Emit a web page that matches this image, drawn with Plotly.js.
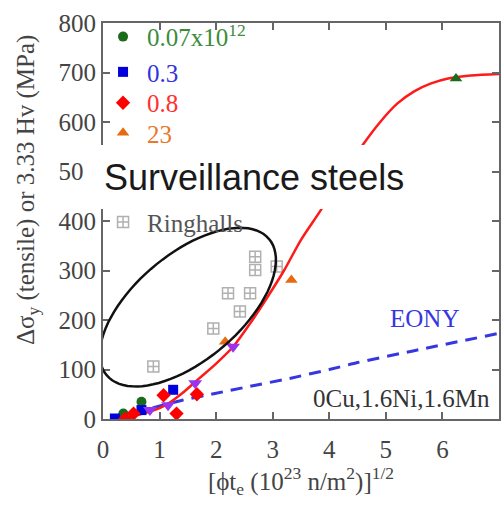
<!DOCTYPE html>
<html>
<head>
<meta charset="utf-8">
<script src="https://cdn.plot.ly/plotly-3.0.1.min.js"></script>
<style>
  html, body { margin: 0; padding: 0; background: #fff; }
  #chart { width: 501px; height: 506px; }
</style>
</head>
<body>
<div id="chart"></div>
<script>
// Fluence axis: sqrt of effective fluence, 10^23 n/m^2
const xTicks = [0, 1, 2, 3, 4, 5, 6, 7];
const yTicks = [0, 100, 200, 300, 400, 500, 600, 700, 800];

// Flux groups (10^12 n/m^2/s)
const fluxNames = ['0.07x10<sup>12</sup>', '0.3', '0.8', '23'];

const g007X = [0.36, 0.68];
const g007Y = [11, 35];

const g03X = [0.21, 0.68, 1.24];
const g03Y = [1, 18, 59];

const g08X = [0.39, 0.54, 1.07, 1.30, 1.66];
const g08Y = [0, 11, 48, 11, 50];

const g23X = [2.16, 3.33];
const g23Y = [156, 281];

// Additional datasets without a legend entry
const purpleX = [0.83, 1.15, 1.63, 2.30];
const purpleY = [18, 28, 72, 146];

const hvX = [6.24];
const hvY = [688];

// Ringhals surveillance steels
const ringX = [0.89, 1.95, 2.21, 2.42, 2.60, 2.69, 2.69, 3.07];
const ringY = [106, 183, 254, 217, 254, 328, 301, 308];

// Model curve for 0Cu,1.6Ni,1.6Mn
const fitX = [0.2, 0.5, 0.8, 1.0, 1.2, 1.4, 1.7, 2.0, 2.3, 2.6, 2.9, 3.2, 3.5, 3.85, 4.2, 4.6, 4.9, 5.2, 5.5, 5.8, 6.1, 6.5, 7.0];
const fitY = [0, 5, 14, 22, 35, 52, 82, 112, 146, 193, 245, 300, 362, 422, 487, 555, 600, 637, 662, 678, 688, 694, 697];

// EONY embrittlement correlation
const eonyX = [0.2, 0.7, 1.4, 2.0, 2.6, 3.3, 4.0, 4.5, 5.5, 7.0];
const eonyY = [0, 17, 38, 52, 66, 82, 100, 114, 138, 173];

// Ellipse drawn around the Ringhals group (centre in data units, size in px)
const ringEllipse = { cx: 1.50, cy: 226, a: 106, b: 53, angle: 40 };

function ellipsePath(e, n) {
  const th = e.angle * Math.PI / 180;
  let d = '';
  for (let i = 0; i <= n; i++) {
    const t = 2 * Math.PI * i / n;
    const px = e.a * Math.cos(t) * Math.cos(th) - e.b * Math.sin(t) * Math.sin(th);
    const py = e.a * Math.cos(t) * Math.sin(th) + e.b * Math.sin(t) * Math.cos(th);
    d += (i ? ' L' : 'M') + px.toFixed(1) + ',' + py.toFixed(1);
  }
  return d + ' Z';
}

const SERIF = 'Liberation Serif';
const SANS = 'Liberation Sans';

function label(text, color) {
  return '<span style="color:' + color + '">' + text + '</span>';
}

const traces = [
  {
    x: ringX, y: ringY, type: 'scatter', mode: 'markers', name: label('Ringhalls', '#555'),
    legend: 'legend2',
    marker: { symbol: 'square-cross-open', size: 11, color: '#b0b0b0', line: { width: 1.5 } }
  },
  {
    x: eonyX, y: eonyY, type: 'scatter', mode: 'lines', showlegend: false,
    line: { color: '#3737e0', width: 3, dash: '12px,8px', shape: 'spline', smoothing: 0.6 }
  },
  {
    x: fitX, y: fitY, type: 'scatter', mode: 'lines', showlegend: false,
    line: { color: '#ff1a1a', width: 2.5, shape: 'spline', smoothing: 0.8 }
  },
  {
    x: g007X, y: g007Y, type: 'scatter', mode: 'markers', name: label(fluxNames[0], '#3c8c3c'),
    legend: 'legend',
    marker: { symbol: 'circle', size: 10, color: '#1b6b1b' }
  },
  {
    x: g03X, y: g03Y, type: 'scatter', mode: 'markers', name: label(fluxNames[1], '#3333dd'),
    legend: 'legend3',
    marker: { symbol: 'square', size: 10, color: '#0000dd' }
  },
  {
    x: g08X, y: g08Y, type: 'scatter', mode: 'markers', name: label(fluxNames[2], '#ff3030'),
    legend: 'legend4',
    marker: { symbol: 'diamond', size: 11, color: '#ff0000' }
  },
  {
    x: g23X, y: g23Y, type: 'scatter', mode: 'markers', name: label(fluxNames[3], '#e8782a'),
    legend: 'legend5',
    marker: { symbol: 'triangle-up', size: 11, color: '#e86a10' }
  },
  {
    x: purpleX, y: purpleY, type: 'scatter', mode: 'markers', showlegend: false,
    marker: { symbol: 'triangle-down', size: 12, color: '#9933ee' }
  },
  {
    x: hvX, y: hvY, type: 'scatter', mode: 'markers', showlegend: false,
    marker: { symbol: 'triangle-up', size: 11, color: '#1b6b1b' }
  }
];

const axisCommon = {
  ticks: 'inside', ticklen: 7, tickwidth: 2, tickcolor: '#666',
  showline: true, linewidth: 2, linecolor: '#666', mirror: 'ticks',
  showgrid: false, zeroline: false,
  tickfont: { family: SERIF, size: 25, color: '#444' }
};

// One single-entry legend per flux group so each row sits at its own height
function legendAt(y) {
  return {
    x: -0.01, y: y, xanchor: 'left', yanchor: 'middle',
    bgcolor: 'rgba(0,0,0,0)', borderwidth: 0, itemwidth: 38,
    font: { family: SERIF, size: 25 }
  };
}

const layout = {
  width: 501, height: 506,
  margin: { l: 103, r: 2, t: 23, b: 87 },
  paper_bgcolor: '#fff', plot_bgcolor: '#fff',
  font: { family: SERIF, size: 25, color: '#444' },
  xaxis: Object.assign({}, axisCommon, {
    range: [0, 7], tickvals: xTicks, ticklabelstandoff: 7,
    title: {
      text: '[ϕt<sub>e</sub> (10<sup>23</sup> n/m<sup>2</sup>)]<sup>1/2</sup>',
      font: { family: SERIF, size: 25, color: '#444' }, standoff: 10
    }
  }),
  yaxis: Object.assign({}, axisCommon, { range: [0, 800], tickvals: yTicks }),
  showlegend: true,
  legend: legendAt(0.965),
  legend3: legendAt(0.876),
  legend4: legendAt(0.798),
  legend5: legendAt(0.722),
  legend2: legendAt(0.497),
  shapes: [
    {
      type: 'rect', xref: 'paper', yref: 'paper',
      x0: -0.049, x1: 0.78, y0: 0.53, y1: 0.692,
      fillcolor: '#fff', line: { width: 0 }, layer: 'above'
    },
    {
      type: 'path', xref: 'x', yref: 'y', xsizemode: 'pixel', ysizemode: 'pixel',
      xanchor: ringEllipse.cx, yanchor: ringEllipse.cy,
      path: ellipsePath(ringEllipse, 90),
      line: { color: '#111', width: 2.5 }, layer: 'above'
    }
  ],
  annotations: [
    {
      text: 'Surveillance steels', xref: 'paper', yref: 'paper',
      x: 0.381, y: 0.611, xanchor: 'center', yanchor: 'middle', showarrow: false,
      font: { family: SANS, size: 36, color: '#1a1a1a' }
    },
    {
      text: 'Δσ<sub>y</sub> (tensile) or 3.33 Hv (MPa)', xref: 'paper', yref: 'paper',
      x: -0.192, y: 0.578, xanchor: 'center', yanchor: 'middle', textangle: -90, showarrow: false,
      font: { family: SERIF, size: 25, color: '#444' }
    },
    {
      text: 'EONY', xref: 'paper', yref: 'paper',
      x: 0.813, y: 0.255, xanchor: 'center', yanchor: 'middle', showarrow: false,
      font: { family: SERIF, size: 25, color: '#3737e0' }
    },
    {
      text: '0Cu,1.6Ni,1.6Mn', xref: 'paper', yref: 'paper',
      x: 0.982, y: 0.053, xanchor: 'right', yanchor: 'middle', showarrow: false,
      font: { family: SERIF, size: 25, color: '#333' }
    }
  ]
};

Plotly.newPlot('chart', traces, layout, { staticPlot: true });
</script>
</body>
</html>
